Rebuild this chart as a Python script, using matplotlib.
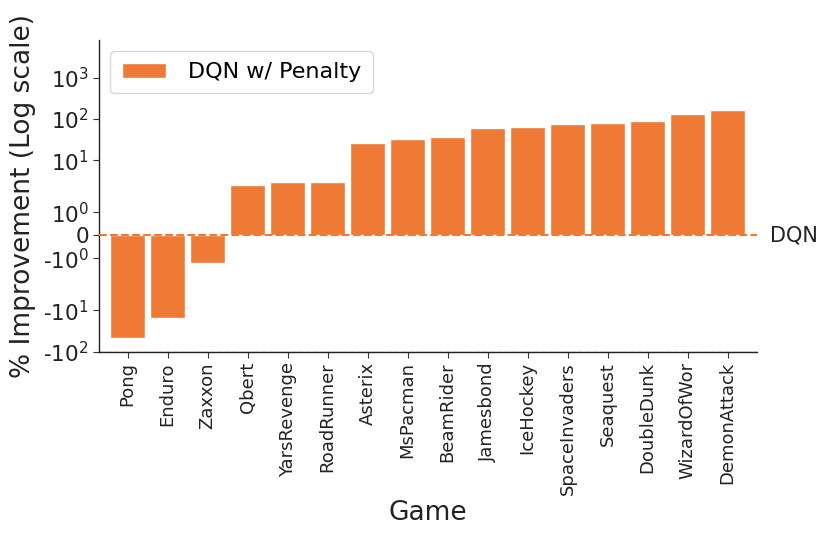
import matplotlib
matplotlib.use("Agg")
import matplotlib.pyplot as plt
import numpy as np

plt.rcParams["axes.unicode_minus"] = False

games = ["Pong", "Enduro", "Zaxxon", "Qbert", "YarsRevenge", "RoadRunner", "Asterix",
         "MsPacman", "BeamRider", "Jamesbond", "IceHockey", "SpaceInvaders", "Seaquest",
         "DoubleDunk", "WizardOfWor", "DemonAttack"]
improvement = [-46.3, -15.1, -1.19, 2.54, 3.01, 3.05, 25.9, 32.4, 37.4, 61.7, 65.3,
               74.6, 78.8, 89.6, 130.0, 165.0]
yticks = [-100, -10, -1, 0, 1, 10, 100, 1000]
series_label = "DQN w/ Penalty"
baseline_label = "DQN"

orange = "#ee7a35"


def tick_label(v):
    if v == 0:
        return "0"
    e = int(round(np.log10(abs(v))))
    s = "$\\mathdefault{10^{%d}}$" % e
    return ("-" + s) if v < 0 else s


fig = plt.figure(figsize=(8.31, 5.42), dpi=100)
ax = fig.add_axes([0.1195, 0.351, 0.9106 - 0.1195, 0.926 - 0.351])

x = np.arange(len(games))
ax.bar(x, improvement, width=0.88, color=orange, edgecolor="white", linewidth=1.0,
       label=series_label, zorder=2)
ax.set_yscale("symlog", linthresh=2, linscale=1)
ax.set_ylim(-100, 8000)
ax.set_xlim(-0.71, 15.73)
ax.set_yticks(yticks)
ax.set_yticklabels([tick_label(v) for v in yticks])
ax.minorticks_off()

ax.axhline(0, ls="--", color=orange, lw=1.5, zorder=3)
ax.axhline(-100, ls="--", color=orange, lw=1.0, zorder=1)
ax.text(16.05, 0, baseline_label, va="center", ha="left", fontsize=15, color="#222222")

ax.set_xticks(x)
ax.set_xticklabels(games, rotation=90, fontsize=13, color="#222222")
ax.tick_params(axis="y", labelsize=15.5, colors="#222222")
ax.tick_params(axis="both", direction="out", length=4, color="#333333")
for s in ["top", "right"]:
    ax.spines[s].set_visible(False)
for s in ["left", "bottom"]:
    ax.spines[s].set_color("#222222")
    ax.spines[s].set_linewidth(1.0)

ax.set_xlabel("Game", fontsize=19, color="#222222")
ax.set_ylabel("% Improvement (Log scale)", fontsize=19, color="#222222")
ax.yaxis.set_label_coords(-0.097, 0.5)

leg = ax.legend(loc="upper left", fontsize=16, handlelength=2.0, handletextpad=1.0,
                borderpad=0.5, frameon=True, fancybox=True)
leg.get_frame().set_edgecolor("#cccccc")

fig.savefig("out.png", dpi=100)
